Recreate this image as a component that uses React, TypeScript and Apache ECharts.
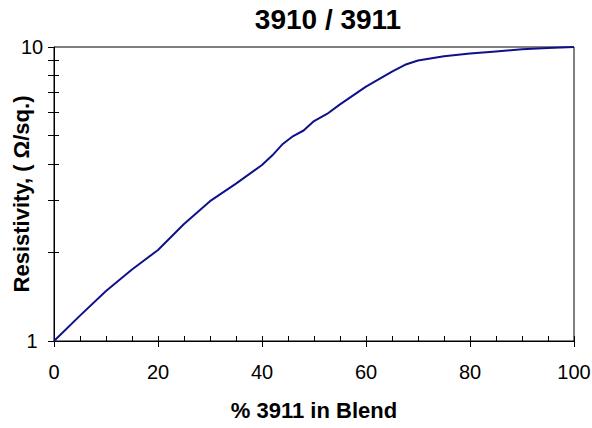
import React, { useEffect, useRef } from "react";
import * as echarts from "echarts";

const blendPct = [0, 5, 10, 15, 20, 25, 30, 35, 40, 42, 44, 46, 48, 50, 52.5, 55, 60, 65, 67.5, 70, 75, 80, 85, 90, 95, 100];
const resistivity = [1, 1.22, 1.48, 1.75, 2.04, 2.5, 2.99, 3.43, 3.97, 4.28, 4.68, 4.98, 5.2, 5.6, 5.92, 6.38, 7.33, 8.24, 8.7, 9.0, 9.3, 9.5, 9.66, 9.82, 9.93, 10];
const yTickValues = [1, 2, 3, 4, 5, 6, 7, 8, 9, 10];
const yInnerTickValues = [2, 3, 4, 5, 6, 7, 8, 9];

const FONT = '"Liberation Sans", Arial, sans-serif';
const GRID = { left: 54, right: 18, top: 47, bottom: 87 };
const W = 592;
const H = 428;

export default function App() {
  const ref = useRef<HTMLDivElement>(null);
  useEffect(() => {
    if (!ref.current) return;
    const chart = echarts.init(ref.current, null, { renderer: "svg" });
    const axisLine = { show: true, lineStyle: { color: "#000", width: 1 } };
    chart.setOption({
      animation: false,
      backgroundColor: "#fff",
      title: {
        text: "3910 / 3911",
        left: 328,
        top: 5,
        padding: 0,
        textAlign: "center",
        textStyle: { fontFamily: FONT, fontWeight: "bold", fontSize: 28, color: "#000" },
      },
      grid: [
        {
          ...GRID,
          outerBoundsMode: "none",
          containLabel: false,
          show: true,
          borderColor: "#000",
          borderWidth: 1,
          backgroundColor: "transparent",
        },
        {
          ...GRID,
          outerBoundsMode: "none",
          containLabel: false,
          show: false,
        },
      ],
      xAxis: [
        {
          type: "value",
          gridIndex: 0,
          min: 0,
          max: 100,
          interval: 20,
          position: "bottom",
          axisLine,
          axisTick: { show: true, inside: false, length: 6, lineStyle: { color: "#000" } },
          axisLabel: { margin: 21, fontFamily: FONT, fontSize: 20, color: "#000" },
          splitLine: { show: false },
          name: "% 3911 in Blend",
          nameLocation: "middle",
          nameGap: 58,
          nameMoveOverlap: false,
          nameTextStyle: { fontFamily: FONT, fontWeight: "bold", fontSize: 22, color: "#000" },
        },
        {
          type: "value",
          gridIndex: 1,
          min: 0,
          max: 100,
          interval: 5,
          position: "bottom",
          axisLine: { show: false },
          axisTick: { show: true, inside: true, length: 5, lineStyle: { color: "#000" } },
          axisLabel: { show: false },
          splitLine: { show: false },
        },
      ],
      yAxis: [
        {
          type: "log",
          gridIndex: 0,
          logBase: 10,
          min: 1,
          max: 10,
          position: "left",
          axisLine,
          axisTick: { show: true, inside: false, length: 6, customValues: yTickValues, lineStyle: { color: "#000" } },
          axisLabel: { margin: 22, align: "center", fontFamily: FONT, fontSize: 20, color: "#000" },
          splitLine: { show: false },
          minorTick: { show: false },
          name: "Resistivity, ( Ω/sq.)",
          nameLocation: "middle",
          nameRotate: 90,
          nameGap: 22,
          nameMoveOverlap: false,
          nameTextStyle: { fontFamily: FONT, fontWeight: "bold", fontSize: 22, color: "#000" },
        },
        {
          type: "log",
          gridIndex: 1,
          logBase: 10,
          min: 1,
          max: 10,
          position: "left",
          axisLine: { show: false },
          axisTick: { show: true, inside: true, length: 5, customValues: yInnerTickValues, lineStyle: { color: "#000" } },
          axisLabel: { show: false },
          splitLine: { show: false },
        },
      ],
      series: [
        {
          type: "line",
          xAxisIndex: 0,
          yAxisIndex: 0,
          data: blendPct.map((x, i) => [x, resistivity[i]]),
          showSymbol: false,
          smooth: false,
          lineStyle: { color: "#10108c", width: 2 },
        },
      ],
    });
    return () => chart.dispose();
  }, []);
  return (
    <div
      ref={ref}
      style={{ position: "fixed", left: 0, top: 0, width: W, height: H, background: "#fff" }}
    />
  );
}
